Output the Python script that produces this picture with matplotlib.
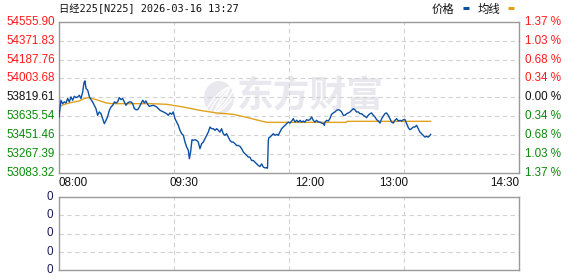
import matplotlib
matplotlib.use("Agg")
import matplotlib.pyplot as plt
from matplotlib.lines import Line2D
from matplotlib.patches import Ellipse
from matplotlib.transforms import blended_transform_factory as btf

# ---------------- data ----------------
title = "日经225[N225] 2026-03-16 13:27"
y_low, y_high = 53083.32, 54555.90
left_labels = ["54555.90", "54371.83", "54187.76", "54003.68", "53819.61",
               "53635.54", "53451.46", "53267.39", "53083.32"]
right_labels = ["1.37 %", "1.03 %", "0.68 %", "0.34 %", "0.00 %",
                "0.34 %", "0.68 %", "1.03 %", "1.37 %"]
x_tick_pos = [0, 90, 180, 240, 330]
x_tick_labels = ["08:00", "09:30", "12:00", "13:00", "14:30"]
x_grid_pos = [82.5, 165, 247.5]
total_minutes = 330

price_min = [0.2, 1.0, 1.6, 2.8, 4.0, 5.2, 6.4, 7.6, 8.8, 10.0,
             11.2, 12.4, 13.6, 14.8, 16.0, 17.2, 18.1, 18.8, 19.6, 20.8,
             22.0, 23.1, 24.3, 25.5, 26.7, 27.9, 29.1, 30.3, 31.5, 32.7,
             33.9, 35.1, 36.3, 37.5, 38.7, 39.9, 41.1, 42.2, 43.4, 44.6,
             45.8, 47.0, 48.2, 49.4, 50.6, 51.8, 53.0, 54.2, 55.4, 56.6,
             57.8, 59.0, 60.2, 61.4, 62.5, 63.7, 64.9,
             67.8, 70.2, 72.6, 75.0, 77.3, 78.5, 79.7, 80.9, 82.1, 83.3,
             84.5, 85.7, 86.9, 88.1, 89.3, 90.5, 91.7, 92.9, 93.6, 94.5,
             95.5, 96.4, 97.6, 98.8, 100.0, 101.2, 102.4, 103.6, 104.8, 106.0,
             107.2, 108.4, 109.6, 110.8, 112.0, 113.2, 114.4, 115.5, 116.7, 117.9,
             119.1, 120.3, 121.5, 122.7, 123.9, 125.1, 126.3, 127.5, 128.7, 129.9,
             131.1, 132.3, 133.5, 134.7, 135.9,
             137.0, 138.2, 139.4, 140.6, 141.8, 143.0, 144.2, 145.4, 146.6, 147.8,
             149.0, 149.6, 150.2, 150.6, 151.4, 152.6, 153.8, 155.0, 156.1, 157.3,
             158.5, 159.7, 160.9, 162.1, 163.3, 164.5, 165.7, 166.9, 168.1, 169.3,
             170.5, 171.7, 172.9, 174.0, 175.2, 176.4, 177.6, 178.8, 180.0, 181.2,
             182.4, 183.6, 184.8, 186.0, 187.2, 188.4, 189.6, 190.3, 190.8, 192.0,
             193.2, 194.3, 195.5, 196.7, 197.9, 199.1, 200.3,
             201.5, 202.7, 203.9, 205.1, 206.3, 207.5, 208.7, 209.9, 211.1, 212.2,
             213.4, 214.6, 215.8, 217.0, 218.2, 219.4, 220.6, 221.8, 223.0, 224.2,
             225.4, 226.6, 227.8, 229.0, 230.2, 231.4, 232.5, 233.7, 234.9, 236.1,
             237.3, 238.5, 239.7, 240.9, 242.1, 243.3, 244.5, 245.7, 246.9, 248.1,
             249.3, 250.5, 251.6, 252.8, 254.0, 255.2, 256.4, 257.6, 258.8, 260.0,
             261.2, 262.4, 263.6, 264.8, 266.0, 266.5]
price_val = [53627, 53725, 53790, 53757, 53774, 53764, 53807, 53774, 53823, 53790,
             53829, 53816, 53823, 53839, 53807, 53872, 53960, 53980, 53905, 53888,
             53823, 53797, 53774, 53741, 53708, 53643, 53676, 53659, 53610, 53561,
             53594, 53633, 53692, 53725, 53741, 53774, 53764, 53774, 53816, 53797,
             53807, 53774, 53741, 53764, 53774, 53774, 53757, 53708, 53698, 53698,
             53725, 53757, 53790, 53764, 53784, 53751, 53731,
             53741, 53725, 53692, 53676, 53659, 53643, 53666, 53653, 53676, 53610,
             53577, 53545, 53496, 53463, 53447, 53381, 53332, 53299, 53218, 53283,
             53404, 53398, 53404, 53398, 53381, 53316, 53365, 53381, 53414, 53447,
             53479, 53528, 53512, 53512, 53496, 53512, 53496, 53479, 53512, 53463,
             53447, 53463, 53430, 53398, 53381, 53381, 53365, 53348, 53348, 53339,
             53316, 53283, 53267, 53250, 53234,
             53234, 53201, 53201, 53185, 53168, 53152, 53142, 53168, 53136, 53129,
             53129, 53125, 53398, 53424, 53430, 53447, 53463, 53447, 53456, 53447,
             53479, 53512, 53528, 53545, 53561, 53577, 53567, 53587, 53610, 53577,
             53594, 53577, 53594, 53577, 53587, 53577, 53600, 53594, 53600, 53627,
             53594, 53577, 53594, 53577, 53577, 53567, 53561, 53545, 53577, 53594,
             53587, 53610, 53653, 53666, 53676, 53692, 53698,
             53692, 53676, 53643, 53643, 53659, 53666, 53676, 53692, 53708, 53698,
             53676, 53676, 53659, 53659, 53643, 53633, 53620, 53643, 53659, 53666,
             53643, 53627, 53600, 53587, 53567, 53610, 53633, 53659, 53666, 53643,
             53610, 53577, 53567, 53594, 53610, 53587, 53594, 53587, 53600, 53600,
             53561, 53522, 53502, 53512, 53528, 53528, 53545, 53512, 53479, 53463,
             53447, 53430, 53437, 53430, 53447, 53456]

avg_min = [0.5, 3, 7.6, 14.8, 18, 21, 26.7, 34, 38, 65, 77, 89, 101, 113,
           125, 134, 143, 149, 206, 206.5, 266.5]
avg_val = [53724, 53745, 53764, 53784, 53805, 53816, 53797, 53764, 53757, 53757,
           53751, 53725, 53692, 53666, 53653, 53625, 53594, 53574, 53574, 53584, 53584]

vol_labels = ["0", "0", "0", "0", "0"]

# ---------------- style ----------------
W, H = 578, 276
RED = "#ff1a1a"
GREEN = "#0a8a0a"
BLUE = "#0d4fa3"
GOLD = "#e0a21c"
SPINE = "#9a9a9a"
GRID = "#d2d2d2"
WM = "#e8e8ee"
NUM_FONT = ["Liberation Sans", "DejaVu Sans"]
CJK_FONT = ["Noto Sans CJK SC", "DejaVu Sans"]

fig = plt.figure(figsize=(W / 100, H / 100), dpi=100)
fig.patch.set_facecolor("white")

L, R = 58.7, 519.3
T1, B1 = 22.0, 172.5
T2, B2 = 197.0, 270.0

ax = fig.add_axes([L / W, 1 - B1 / H, (R - L) / W, (B1 - T1) / H])
ax2 = fig.add_axes([L / W, 1 - B2 / H, (R - L) / W, (B2 - T2) / H])
ax.set_zorder(2)
ax.patch.set_alpha(0)

n = len(left_labels)
levels = [y_high - i * (y_high - y_low) / (n - 1) for i in range(n)]

for a in (ax, ax2):
    a.set_xlim(0, total_minutes)
    a.set_xticks([])
    a.set_yticks([])
    for s in a.spines.values():
        s.set_color(SPINE)
        s.set_linewidth(1.0)
    for xg in x_grid_pos:
        a.axvline(xg, color=GRID, lw=0.8, ls=(0, (4, 3)), zorder=1)

ax.set_ylim(y_low, y_high)
for lv in levels[1:-1]:
    ax.axhline(lv, color=GRID, lw=0.8, ls=(0, (4, 3)), zorder=1)

# watermark (logo + text), drawn behind the price axes
fig.text(310 / W, 1 - 97 / H, "东方财富", family=CJK_FONT, fontsize=26.5,
         fontweight="bold", color=WM, ha="center", va="center", zorder=0.5)
fig.add_artist(Ellipse((219 / W, 1 - 98 / H), 30 / W, 34 / H, angle=0,
                       transform=fig.transFigure, facecolor=WM, edgecolor="none",
                       zorder=0.4))
for off in [-6, 0, 6]:
    fig.add_artist(Ellipse(((222 + off) / W, 1 - (100 - off * 0.5) / H), 10 / W, 32 / H,
                           angle=-20, transform=fig.transFigure, facecolor="none",
                           edgecolor="white", lw=1.0, zorder=0.45))

ax.plot(avg_min, avg_val, color=GOLD, lw=1.0, zorder=3)
ax.plot(price_min, price_val, color=BLUE, lw=1.0, zorder=4)

tl = btf(ax.transAxes, ax.transData)
mid = (n - 1) // 2
for i, (lv, lab, rlab) in enumerate(zip(levels, left_labels, right_labels)):
    c = RED if i < mid else ("#111111" if i == mid else GREEN)
    ax.text(-3.7 / (R - L), lv, lab, transform=tl, ha="right", va="center",
            family=NUM_FONT, fontsize=8.4, color=c, clip_on=False)
    ax.text(1 + 5.7 / (R - L), lv, rlab, transform=tl, ha="left", va="center",
            family=NUM_FONT, fontsize=8.4, color=c, clip_on=False)

tb = btf(ax.transData, ax.transAxes)
for xp, lab in zip(x_tick_pos, x_tick_labels):
    ha = "left" if xp == 0 else ("right" if xp == total_minutes else "center")
    ax.text(xp, -(182.5 - B1) / (B1 - T1), lab, transform=tb, ha=ha, va="center",
            family=NUM_FONT, fontsize=8.4, color="#111111", clip_on=False)

ax2.set_ylim(0, len(vol_labels) - 1)
for k in range(1, len(vol_labels) - 1):
    ax2.axhline(k, color=GRID, lw=0.8, ls=(0, (4, 3)), zorder=1)
tl2 = btf(ax2.transAxes, ax2.transData)
for k, lab in enumerate(vol_labels):
    ax2.text(-5.5 / (R - L), len(vol_labels) - 1 - k, lab, transform=tl2, ha="right",
             va="center", family=NUM_FONT, fontsize=8.4, color="#1a1a55", clip_on=False)

# title & legend
fig.text(59 / W, 1 - 9 / H, title, family=["DejaVu Sans Mono", "Noto Sans CJK SC"],
         fontsize=7.4, color="#111111", ha="left", va="center")
fig.text(432 / W, 1 - 9 / H, "价格", family=CJK_FONT, fontsize=8.2,
         color="#111111", ha="left", va="center")
fig.text(478 / W, 1 - 9 / H, "均线", family=CJK_FONT, fontsize=8.2,
         color="#111111", ha="left", va="center")
fig.add_artist(Line2D([463 / W, 468.5 / W], [1 - 8 / H, 1 - 8 / H], color=BLUE, lw=2.2,
                      transform=fig.transFigure, solid_capstyle="butt"))
fig.add_artist(Line2D([508 / W, 513.5 / W], [1 - 8 / H, 1 - 8 / H], color=GOLD, lw=2.2,
                      transform=fig.transFigure, solid_capstyle="butt"))

fig.savefig("out.png", dpi=100, facecolor="white")
